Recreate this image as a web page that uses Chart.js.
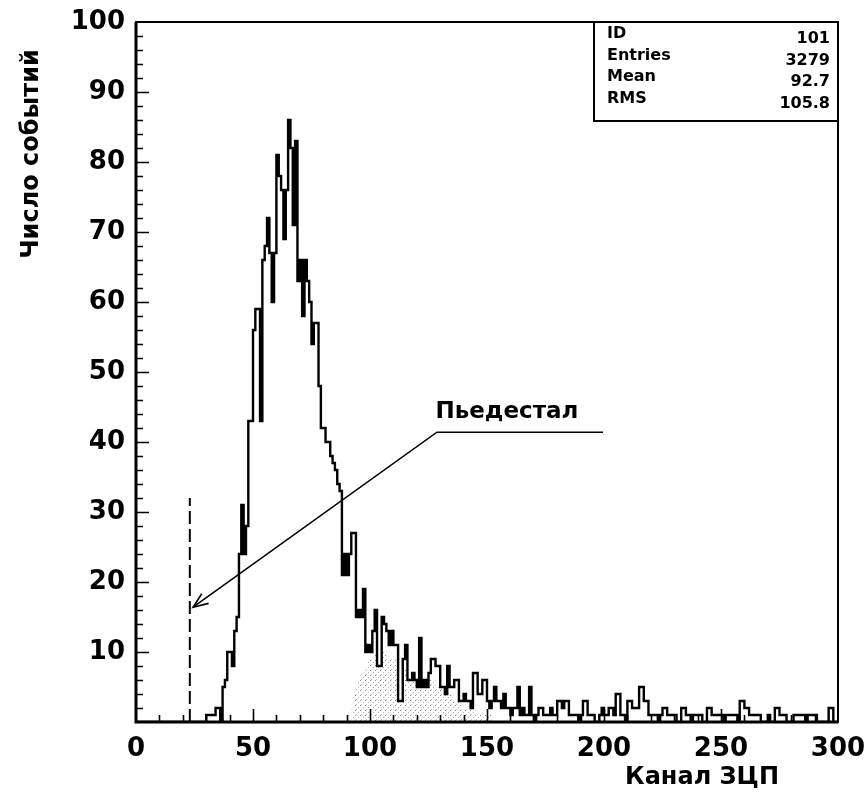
<!DOCTYPE html>
<html><head><meta charset="utf-8">
<script src="https://cdn.jsdelivr.net/npm/chart.js@4/dist/chart.umd.min.js"></script>
<style>html,body{margin:0;padding:0;background:#fff;}</style>
</head><body>
<canvas id="c" width="866" height="801"></canvas>
<script>
// ---- data (one bin per ADC channel, 0..299) ----
const channelCounts = [
 0,0,0,0,0,0,0,0,0,0, 0,0,0,0,0,0,0,0,0,0, 0,0,0,0,0,0,0,0,0,0,          // 0-29
 1,1,1,1,2,2,0,5,6,10, 10,8,13,15,24,31,24,28,43,43,                     // 30-49
 56,59,59,43,66,68,72,67,60,67, 81,78,76,69,76,86,82,71,83,63,           // 50-69
 66,58,66,63,60,54,57,57,48,42, 42,40,40,38,37,36,34,33,21,24,           // 70-89
 21,24,27,27,15,16,15,19,10,11, 10,13,16,8,8,15,14,13,11,13,             // 90-109
 11,11,3,3,9,11,6,6,7,6, 5,12,5,6,5,7,9,9,8,8,                           // 110-129
 5,5,4,8,5,5,6,6,3,3, 4,3,3,2,7,7,4,4,6,6,                               // 130-149
 3,2,3,5,3,3,2,4,2,2, 1,2,2,5,1,2,1,1,5,1,                               // 150-169
 0,1,2,2,1,1,1,2,1,1, 3,3,2,3,3,1,1,1,1,0,                               // 170-189
 1,3,3,1,1,1,0,0,1,2, 1,1,2,2,1,4,4,1,1,0,                               // 190-209
 3,3,2,2,2,5,5,3,3,1, 1,1,1,0,1,2,2,1,1,1,                               // 210-229
 1,0,0,2,2,1,1,0,1,1, 1,1,0,0,2,2,1,1,1,1,                               // 230-249
 1,0,1,1,1,1,1,0,3,3, 2,2,1,1,1,1,1,0,0,0,                               // 250-269
 1,0,0,2,2,1,1,1,0,0, 0,1,1,1,1,1,0,1,1,1,                               // 270-289
 1,0,0,0,0,0,2,2,0,0                                                     // 290-299
];
const shadedStart = 92;
const shadedCounts = [
 2,4,5,6,7,7,8,9,9,9, 10,8,8,10,10,9,9,9,9,8,
 3,3,8,8,6,6,7,6,5,7, 5,6,5,6,6,6,5,5,5,4,
 4,4,4,3,3,3,3,2,2,2, 2,2,2,1,1,1,1,1,1,1, 0
];
const pedestalX = [23, 23];
const pedestalY = [0, 32];
const arrowX = [24.4, 128.6, 199.6];
const arrowY = [16.4, 41.4, 41.4];
const calloutText = 'Пьедестал';
const calloutPos = [158.5, 44.3];
const xTickLabels = [0, 50, 100, 150, 200, 250, 300];
const yTickLabels = [10, 20, 30, 40, 50, 60, 70, 80, 90, 100];
const statsLabels = ['ID', 'Entries', 'Mean', 'RMS'];
const statsValues = ['101', '3279', '92.7', '105.8'];
const xTitle = 'Канал ЗЦП';
const yTitle = 'Число событий';

// ---- build ----
const FONT = 'DejaVu Sans';
Chart.defaults.font.family = FONT;
Chart.defaults.color = '#000';

const histData = channelCounts.map((v, i) => ({x: i, y: v}));
histData.push({x: channelCounts.length, y: channelCounts[channelCounts.length - 1]});
const shadeData = shadedCounts.map((v, i) => ({x: shadedStart + i, y: v}));

function stipple() {
  const c = document.createElement('canvas');
  c.width = 5; c.height = 5;
  const g = c.getContext('2d');
  g.fillStyle = '#8a8a8a'; g.fillRect(0, 0, 1, 1);
  g.fillStyle = '#b0b0b0'; g.fillRect(3, 2, 1, 1);
  g.fillStyle = '#c4c4c4'; g.fillRect(1, 4, 1, 1);
  return g.createPattern(c, 'repeat');
}

const decor = {
  id: 'decor',
  afterDatasetsDraw(chart) {
    const {ctx, chartArea: a, scales: {x, y}} = chart;
    ctx.save();
    ctx.strokeStyle = '#000';
    ctx.lineCap = 'butt';
    // ticks (inward)
    ctx.lineWidth = 1.6;
    ctx.beginPath();
    for (let v = 2; v < 100; v += 2) {
      const py = Math.round(y.getPixelForValue(v)) + 0.5;
      const len = (v % 10 === 0) ? 13 : 7;
      ctx.moveTo(a.left, py); ctx.lineTo(a.left + len, py);
    }
    for (let v = 10; v < 300; v += 10) {
      const px = Math.round(x.getPixelForValue(v)) + 0.5;
      const len = (v % 50 === 0) ? 13 : 7;
      ctx.moveTo(px, a.bottom); ctx.lineTo(px, a.bottom - len);
    }
    ctx.stroke();
    // frame
    ctx.lineWidth = 2;
    ctx.strokeRect(a.left, a.top, a.right - a.left, a.bottom - a.top);
    ctx.lineWidth = 3;
    ctx.beginPath();
    ctx.moveTo(a.left, a.top); ctx.lineTo(a.left, a.bottom); ctx.lineTo(a.right, a.bottom);
    ctx.stroke();
    // arrow head
    const tx = x.getPixelForValue(arrowX[0]), ty = y.getPixelForValue(arrowY[0]);
    const sx = x.getPixelForValue(arrowX[1]), sy = y.getPixelForValue(arrowY[1]);
    const ang = Math.atan2(sy - ty, sx - tx);
    ctx.lineWidth = 1.6;
    ctx.beginPath();
    ctx.moveTo(tx + 16 * Math.cos(ang + 0.38), ty + 16 * Math.sin(ang + 0.38));
    ctx.lineTo(tx, ty);
    ctx.lineTo(tx + 16 * Math.cos(ang - 0.38), ty + 16 * Math.sin(ang - 0.38));
    ctx.stroke();
    // callout text
    ctx.fillStyle = '#000';
    ctx.font = 'bold 23px ' + FONT;
    ctx.textAlign = 'center'; ctx.textBaseline = 'middle';
    ctx.fillText(calloutText, x.getPixelForValue(calloutPos[0]), y.getPixelForValue(calloutPos[1]));
    // stats box
    const bx = a.right - 244, by = a.top, bw = 244, bh = 99;
    ctx.fillStyle = '#fff';
    ctx.fillRect(bx, by, bw, bh);
    ctx.lineWidth = 2;
    ctx.strokeRect(bx, by, bw, bh);
    ctx.fillStyle = '#000';
    ctx.font = 'bold 16px ' + FONT;
    statsLabels.forEach((t, i) => {
      ctx.textAlign = 'left';
      ctx.fillText(t, bx + 13, by + 12 + i * 21.6);
      ctx.textAlign = 'right';
      ctx.fillText(statsValues[i], bx + bw - 8, by + 17 + i * 21.6);
    });
    // axis titles
    ctx.font = 'bold 24px ' + FONT;
    ctx.textAlign = 'center';
    ctx.fillText(xTitle, a.left + 566, a.bottom + 56);
    ctx.save();
    ctx.translate(a.left - 104, a.top + 132);
    ctx.rotate(-Math.PI / 2);
    ctx.fillText(yTitle, 0, 0);
    ctx.restore();
    ctx.restore();
  }
};

new Chart(document.getElementById('c'), {
  type: 'line',
  data: {
    datasets: [
      {
        data: histData, stepped: true, borderColor: '#000', borderWidth: 2.4,
        pointRadius: 0, fill: false, borderJoinStyle: 'miter', order: 1
      },
      {
        data: shadeData, stepped: true, borderWidth: 0, borderColor: 'rgba(0,0,0,0)',
        backgroundColor: stipple(), fill: 'origin', pointRadius: 0, order: 3
      },
      {
        data: pedestalX.map((v, i) => ({x: v, y: pedestalY[i]})),
        borderColor: '#000', borderWidth: 2, borderDash: [13, 5], pointRadius: 0, fill: false, order: 2
      },
      {
        data: arrowX.map((v, i) => ({x: v, y: arrowY[i]})),
        borderColor: '#000', borderWidth: 1.6, pointRadius: 0, fill: false, tension: 0, order: 2
      }
    ]
  },
  options: {
    responsive: false, animation: false, devicePixelRatio: 1,
    layout: {padding: {top: 22, right: 28, left: 0, bottom: 0}},
    plugins: {legend: {display: false}, tooltip: {enabled: false}},
    scales: {
      x: {
        type: 'linear', min: 0, max: 300,
        afterBuildTicks: s => { s.ticks = xTickLabels.map(v => ({value: v})); },
        afterFit: s => { s.height = 79; s.paddingLeft = 0; s.paddingRight = 0; },
        grid: {display: false, drawTicks: false}, border: {display: false},
        ticks: {padding: 12, font: {size: 26, weight: 'bold'}, color: '#000', maxRotation: 0, autoSkip: false,
          callback: v => String(v)}
      },
      y: {
        type: 'linear', min: 0, max: 100,
        afterBuildTicks: s => { s.ticks = yTickLabels.map(v => ({value: v})); },
        afterFit: s => { s.width = 136; s.paddingTop = 0; s.paddingBottom = 0; },
        grid: {display: false, drawTicks: false}, border: {display: false},
        ticks: {padding: 11, font: {size: 26, weight: 'bold'}, color: '#000', autoSkip: false,
          callback: v => String(v)}
      }
    }
  },
  plugins: [decor]
});
</script>
</body></html>
